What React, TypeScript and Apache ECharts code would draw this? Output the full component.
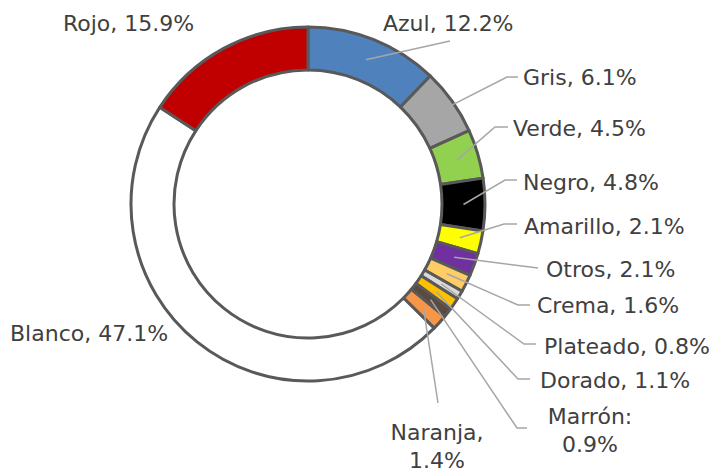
import React, { useEffect, useRef } from "react";
import * as echarts from "echarts";

// ---- data (clockwise from 12 o'clock) ----
const names = [
  "Azul", "Gris", "Verde", "Negro", "Amarillo", "Otros", "Crema",
  "Plateado", "Dorado", "Marrón", "Naranja", "Blanco", "Rojo",
];
const values = [12.2, 6.1, 4.5, 4.8, 2.1, 2.1, 1.6, 0.8, 1.1, 0.9, 1.4, 47.1, 15.9];
const separators = [", ", ", ", ", ", ", ", ", ", ", ", ", ", ", ", ", ", ":\n", ",\n", ", ", ", "];
const colors = [
  "#4f81bd", "#a6a6a6", "#92d050", "#000000", "#ffff00", "#7030a0", "#ffcc66",
  "#d9d9d9", "#ffc000", "#5a4a3f", "#f79646", "#ffffff", "#c00000",
];

// ---- layout (styles, not data) ----
const CX = 308;
const CY = 204;
const R_IN = 134;
const R_OUT = 177;
const R_MID = (R_IN + R_OUT) / 2;

type LabelPos = {
  x: number; y: number; align: "left" | "center" | "right";
  elbow: number[] | null; end: number[] | null;
};
const labelPos: LabelPos[] = [
  { x: 383, y: 23, align: "left", elbow: [450, 41], end: [450, 41] },
  { x: 523, y: 77, align: "left", elbow: [507, 77], end: [518, 77] },
  { x: 513, y: 128, align: "left", elbow: [495, 127], end: [508, 127] },
  { x: 523, y: 182, align: "left", elbow: [505, 180], end: [517, 180] },
  { x: 524, y: 226, align: "left", elbow: [504, 224], end: [517, 224] },
  { x: 546, y: 269, align: "left", elbow: [538, 268], end: [538, 268] },
  { x: 537, y: 305, align: "left", elbow: [518, 305], end: [530, 305] },
  { x: 544, y: 346, align: "left", elbow: [524, 344], end: [536, 344] },
  { x: 540, y: 380, align: "left", elbow: [518, 379], end: [530, 379] },
  { x: 590, y: 430, align: "center", elbow: [517, 428], end: [527, 428] },
  { x: 437, y: 446, align: "center", elbow: [438, 403], end: [438, 403] },
  { x: 10, y: 333, align: "left", elbow: null, end: null },
  { x: 63, y: 23, align: "left", elbow: null, end: null },
];

export default function App() {
  const ref = useRef<HTMLDivElement>(null);
  useEffect(() => {
    if (!ref.current) return;
    const chart = echarts.init(ref.current, null, { renderer: "svg" });
    const ringData = names.map((n, i) => ({
      name: n,
      value: values[i],
      itemStyle: { color: colors[i] },
    }));
    const labelData = names.map((n, i) => ({
      name: n,
      value: values[i],
      labelLine: { show: labelPos[i].elbow !== null },
    }));
    chart.setOption({
      animation: false,
      backgroundColor: "#ffffff",
      series: [
        {
          type: "pie",
          z: 2,
          center: [CX, CY],
          radius: [R_IN, R_OUT],
          startAngle: 90,
          clockwise: true,
          data: ringData,
          itemStyle: { borderColor: "#595959", borderWidth: 3 },
          emphasis: { disabled: true },
          label: { show: false },
          labelLine: { show: false },
          silent: true,
        },
        {
          type: "pie",
          z: 5,
          center: [CX, CY],
          radius: [R_IN, R_OUT],
          startAngle: 90,
          clockwise: true,
          avoidLabelOverlap: false,
          data: labelData,
          itemStyle: { color: "rgba(0,0,0,0)", borderWidth: 0 },
          emphasis: { disabled: true },
          silent: true,
          label: {
            show: true,
            position: "outside",
            color: "#404040",
            fontFamily: "DejaVu Sans",
            fontSize: 22,
            lineHeight: 28,
            formatter: (p: any) =>
              `${names[p.dataIndex]}${separators[p.dataIndex]}${values[p.dataIndex].toFixed(1)}%`,
          },
          labelLine: {
            show: true,
            lineStyle: { color: "#a6a6a6", width: 1.5 },
          },
          labelLayout: (params: any) => {
            const p = labelPos[params.dataIndex];
            const pts = params.labelLinePoints;
            let line: number[][] | undefined;
            if (p.elbow && pts && pts.length) {
              const [x0, y0] = pts[0];
              const dx = x0 - CX;
              const dy = y0 - CY;
              const d = Math.sqrt(dx * dx + dy * dy) || 1;
              const start = [CX + (dx / d) * R_MID, CY + (dy / d) * R_MID];
              line = [start, p.elbow, p.end as number[]];
            }
            return {
              x: p.x,
              y: p.y,
              align: p.align,
              verticalAlign: "middle",
              labelLinePoints: line,
            };
          },
        },
      ],
    });
    return () => chart.dispose();
  }, []);
  return (
    <div
      ref={ref}
      style={{ position: "fixed", left: 0, top: 0, width: 714, height: 468, background: "#fff" }}
    />
  );
}
